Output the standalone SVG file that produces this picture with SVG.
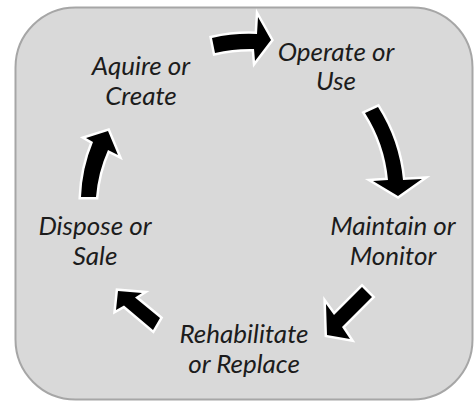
<svg xmlns="http://www.w3.org/2000/svg" width="475" height="402" viewBox="0 0 475 402">
  <style>
    .panel { fill: #d9d9d9; stroke: #a6a6a6; stroke-width: 2; }
    .label { font-family: Lato, "Open Sans", "Liberation Sans", sans-serif; font-style: italic; font-size: 26px; fill: #1c1c1c; text-anchor: middle; }
    .arrow { fill: #000; stroke: #fff; stroke-width: 5; stroke-linejoin: miter; paint-order: stroke; }
  </style>

  <!-- rounded grey panel -->
  <rect class="panel" x="15.5" y="7.5" width="457" height="392" rx="60" ry="60"/>

  <!-- cycle arrows -->
  <g id="connectors">
    <path class="arrow" d="M212,38 A165,165 0 0 1 257,34 L258,17 L271,40 L255,61 L254,49 A150,150 0 0 0 215,53 Z"/>
    <path class="arrow" d="M365,113 A150,150 0 0 1 388,180 L373,181 L398,196 L422,179 L403,180 A165,165 0 0 0 378,107 Z"/>
    <path class="arrow" d="M362,287 L372,297 L342,327 L350,339 L327,335 L326,304 L334,315 Z"/>
    <path class="arrow" d="M160,318 L135,297.5 L142,293 L118,291 L116,310 L124,305.5 L153,330 Z"/>
    <path class="arrow" d="M81,197 A158,158 0 0 1 93,142 L86,138 L108,131 L118,155 L108,150 A143,143 0 0 0 96,197 Z"/>
  </g>

  <!-- stages -->
  <g id="acquire">
    <text class="label" x="141" y="75">Aquire or</text>
    <text class="label" x="141" y="105">Create</text>
  </g>
  <g id="operate">
    <text class="label" x="336" y="61">Operate or</text>
    <text class="label" x="336" y="90">Use</text>
  </g>
  <g id="maintain">
    <text class="label" x="393" y="235">Maintain or</text>
    <text class="label" x="393" y="265">Monitor</text>
  </g>
  <g id="rehabilitate">
    <text class="label" x="244" y="343">Rehabilitate</text>
    <text class="label" x="244" y="373">or Replace</text>
  </g>
  <g id="dispose">
    <text class="label" x="95" y="235">Dispose or</text>
    <text class="label" x="95" y="265">Sale</text>
  </g>
</svg>
